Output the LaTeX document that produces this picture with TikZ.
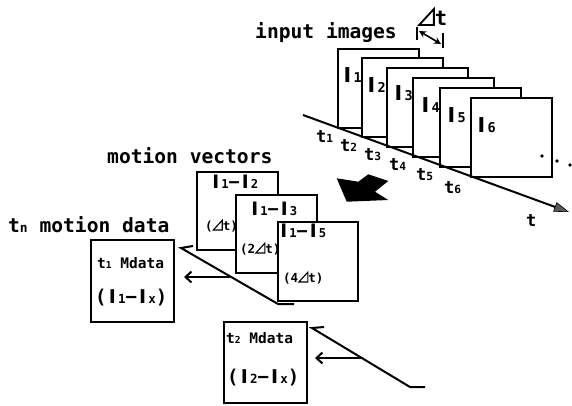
\documentclass[tikz,border=0pt]{standalone}
\usepackage{fontspec}
\usepackage{graphicx}
\setmainfont{DejaVu Sans Mono}
\newfontfamily\plainsans{DejaVu Sans}
\usetikzlibrary{arrows.meta}
\newcommand{\Ic}{\makebox[0.6em]{\plainsans\bfseries I}}
\newcommand{\sm}[1]{\scalebox{0.66}{#1}}
\newcommand{\rtri}{\tikz[baseline=0pt,x=1em,y=1em]\draw[line width=0.09em,line join=miter](0,0)--(0.72,0)--(0.72,0.78)--cycle;}
\tikzset{
  frame/.style={draw,line width=2pt,fill=white,minimum width=81pt,minimum height=79pt,anchor=north west,inner sep=0pt},
  mvbox/.style={draw,line width=2pt,fill=white,minimum width=81pt,minimum height=78pt,anchor=north west,inner sep=0pt},
  mdbox/.style={draw,line width=2.2pt,fill=white,minimum width=83pt,minimum height=82pt,anchor=north west,inner sep=0pt},
  big/.style={font=\fontsize{19.6}{22}\selectfont\bfseries,anchor=base west,inner sep=0pt},
  flabel/.style={font=\fontsize{20.5}{22}\selectfont\bfseries,anchor=base west,inner sep=0pt},
  tlabel/.style={font=\fontsize{17}{20}\selectfont\bfseries,anchor=base west,inner sep=0pt},
  mvlabel/.style={font=\fontsize{18.5}{20}\selectfont\bfseries,anchor=base west,inner sep=0pt},
  dtlabel/.style={font=\fontsize{12.5}{14}\selectfont\bfseries,anchor=base west,inner sep=0pt},
  mdlabel/.style={font=\fontsize{14.5}{16}\selectfont\bfseries,anchor=base west,inner sep=0pt},
  mdexpr/.style={font=\fontsize{19}{21}\selectfont\bfseries,anchor=base west,inner sep=0pt},
  ln/.style={line width=2pt},
  barb/.style={-{Straight Barb[length=6pt,width=11pt,line width=2pt]}}
}
\begin{document}
\begin{tikzpicture}[x=1pt,y=-1pt]
\useasboundingbox (0,0) rectangle (572,405);
% input image frames
\node[frame] (f1) at (337,48) {};
\node[frame] (f2) at (361,57) {};
\node[frame] (f3) at (386,67) {};
\node[frame] (f4) at (412,77) {};
\node[frame] (f5) at (439,87) {};
\node[frame] (f6) at (470,97) {};
\node[flabel] (l1) at (341,82) {\Ic\sm{1}};
\node[flabel] (l2) at (365,92) {\Ic\sm{2}};
\node[flabel] (l3) at (392,100) {\Ic\sm{3}};
\node[flabel] (l4) at (419,112) {\Ic\sm{4}};
\node[flabel] (l5) at (445,122) {\Ic\sm{5}};
\node[flabel] (l6) at (475,132) {\Ic\sm{6}};
% time axis
\coordinate (axs) at (303,115);
\coordinate (axe) at (569,212);
\draw[line width=2pt,-{Triangle[length=15pt,width=10pt,fill=black!65,line width=0.6pt]}] (axs) -- (axe);
\node[tlabel] (t1) at (316,142) {t\sm{1}};
\node[tlabel] (t2) at (340,151) {t\sm{2}};
\node[tlabel] (t3) at (364,160) {t\sm{3}};
\node[tlabel] (t4) at (389,170) {t\sm{4}};
\node[tlabel] (t5) at (416,180) {t\sm{5}};
\node[tlabel] (t6) at (444,193) {t\sm{6}};
\node[tlabel] (tax) at (526,226) {t};
% dots
\fill (542,156) circle (1.8) (557,161) circle (1.8) (570,165) circle (1.8);
% header
\node[big] (inp) at (255,38) {input images};
\node[flabel] (dtl) at (418,25) {\rtri t};
\coordinate (da) at (419,31);
\coordinate (db) at (441,44);
\draw[line width=1.6pt,{Stealth[length=7pt,width=7pt]}-{Stealth[length=7pt,width=7pt]}] (da) -- (db);
\draw[line width=1.6pt] (417,27) -- (417,40) (443,33) -- (443,48);
% big black arrow
\fill (336.7,178.3) -- (358.3,181.7) -- (368.3,174.3) -- (388.3,181) -- (375,191.7) -- (388.3,200) -- (346.7,201.7) -- cycle;
% motion vectors
\node[big] (mvt) at (107,163) {motion vectors};
\node[mvbox] (m1) at (196,171) {};
\node[mvlabel] (m1a) at (210,188) {\Ic\sm{1}−\Ic\sm{2}};
\node[dtlabel] (m1b) at (205,230) {(\rtri t)};
\node[mvbox] (m2) at (235,194) {};
\node[mvlabel] (m2a) at (249,215) {\Ic\sm{1}−\Ic\sm{3}};
\node[dtlabel] (m2b) at (240,253) {(2\rtri t)};
\node[mvbox,minimum height=79pt,minimum width=80pt] (m3) at (277,221) {};
\node[mvlabel] (m3a) at (278,237) {\Ic\sm{1}−\Ic\sm{5}};
\node[dtlabel] (m3b) at (283,282) {(4\rtri t)};
% motion data
\node[big] (mdt) at (8,232) {t\sm{n} motion data};
\node[mdbox] (d1) at (90,239) {};
\node[mdlabel] (d1a) at (97,268) {t\sm{1} Mdata};
\node[mdexpr] (d1b) at (95,303) {(\Ic\sm{1}−\Ic\sm{x})};
\node[mdbox,minimum height=81pt] (d2) at (223,321) {};
\node[mdlabel] (d2a) at (226,343) {t\sm{2} Mdata};
\node[mdexpr] (d2b) at (227,383) {(\Ic\sm{2}−\Ic\sm{x})};
% hockey-stick lines and arrows
\coordinate (h1s) at (193,246);
\coordinate (h1t) at (181,248);
\coordinate (h1c) at (278,304);
\coordinate (h1e) at (294,304);
\draw[ln,line join=miter] (h1s) -- (h1t) -- (h1c) -- (h1e);
\coordinate (a1s) at (230,277);
\coordinate (a1e) at (184,277);
\draw[ln,barb] (a1s) -- (a1e);
\coordinate (h2s) at (324,327);
\coordinate (h2t) at (312,328);
\coordinate (h2c) at (410,387);
\coordinate (h2e) at (425,387);
\draw[ln,line join=miter] (h2s) -- (h2t) -- (h2c) -- (h2e);
\coordinate (a2s) at (363,358);
\coordinate (a2e) at (315,358);
\draw[ln,barb] (a2s) -- (a2e);
\end{tikzpicture}
\end{document}
